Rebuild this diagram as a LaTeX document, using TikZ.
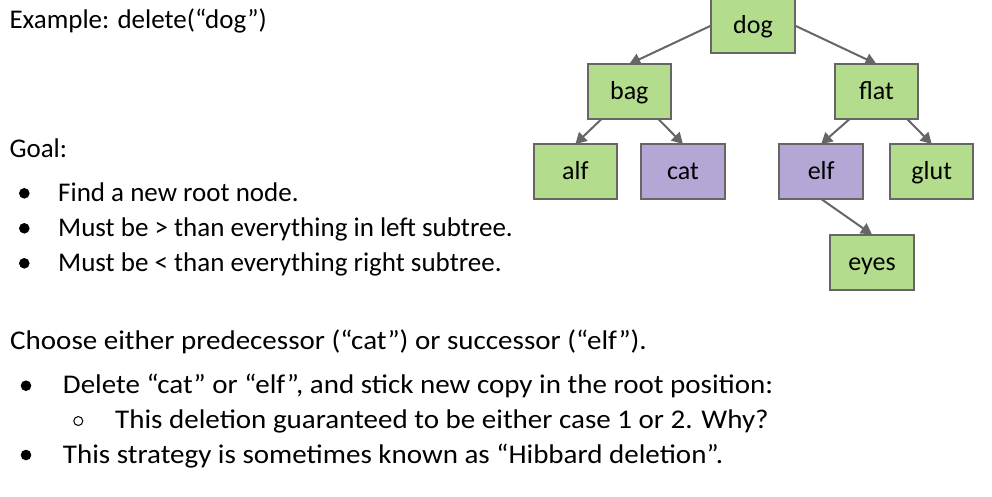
\documentclass[tikz,border=0pt]{standalone}
\usepackage{fontspec}
\setmainfont{Carlito}
\usetikzlibrary{arrows.meta}
\definecolor{leafgreen}{RGB}{179,220,140}
\definecolor{pickpurple}{RGB}{180,167,214}
\definecolor{edgegray}{RGB}{102,102,102}
\newcommand{\widetext}[1]{\scalebox{1.075}[1]{#1}}
\tikzset{
  keybox/.style={draw=edgegray, line width=2pt, fill=leafgreen,
    minimum width=83.5pt, minimum height=55pt, inner sep=0pt, outer sep=0pt,
    font=\fontsize{26}{30}\selectfont, text height=18pt, text depth=2pt},
  chosen/.style={keybox, fill=pickpurple},
  link/.style={draw=edgegray, line width=2pt,
    -{Triangle[length=11pt,width=12pt]}},
  line/.style={anchor=base west, inner sep=0pt, font=\fontsize{27}{32}\selectfont},
  dot/.style={fill=black},
}
\begin{document}
\begin{tikzpicture}[x=1pt, y=-1pt]
  \useasboundingbox (0,0) rectangle (992,496);

  % tree
  \node[keybox] (dog)  at (753,25.5)   {dog};
  \node[keybox] (bag)  at (629.3,91.5) {bag};
  \node[keybox] (flat) at (876.4,91.5) {flat};
  \node[keybox] (alf)  at (575.4,171.5){alf};
  \node[chosen] (cat)  at (682.9,171.5){cat};
  \node[chosen] (elf)  at (821.2,171.5){elf};
  \node[keybox] (glut) at (931.7,171.5){glut};
  \node[keybox] (eyes) at (872,262)    {eyes};

  \draw[link] (dog.west) -- (bag.north);
  \draw[link] (dog.east) -- (flat.north);
  \draw[link] ([xshift=14pt]bag.south west) -- (alf.north);
  \draw[link] ([xshift=-12.7pt]bag.south east) -- (cat.north);
  \draw[link] ([xshift=15pt]flat.south west) -- (elf.north);
  \draw[link] ([xshift=-11pt]flat.south east) -- (glut.north);
  \draw[link] (elf.south) -- (eyes.north);

  % text
  \node[line] (t1) at (9.3,28.5)  {Example: delete(“dog”)};
  \node[line] (t2) at (9.3,157)   {Goal:};
  \node[line] (t3) at (58,201.7)  {Find a new root node.};
  \node[line] (t4) at (58,236.7)  {Must be > than everything in left subtree.};
  \node[line] (t5) at (58,271.7)  {Must be < than everything right subtree.};
  \node[line] (t6) at (10,349.3)  {\widetext{Choose either predecessor (“cat”) or successor (“elf”).}};
  \node[line] (t7) at (62.7,393.3){\widetext{Delete “cat” or “elf”, and stick new copy in the root position:}};
  \node[line] (t8) at (115,428.3) {\widetext{This deletion guaranteed to be either case 1 or 2. Why?}};
  \node[line] (t9) at (62.7,463.3){\widetext{This strategy is sometimes known as “Hibbard deletion”.}};

  % bullets
  \fill[dot] (24.3,193.3) circle (5.3pt);
  \fill[dot] (24.3,228.3) circle (5.3pt);
  \fill[dot] (24.3,263.3) circle (5.3pt);
  \fill[dot] (26,385.7) circle (5.3pt);
  \draw[line width=1pt] (78.3,421) circle (4.5pt);
  \fill[dot] (26,455) circle (5.3pt);
\end{tikzpicture}
\end{document}
